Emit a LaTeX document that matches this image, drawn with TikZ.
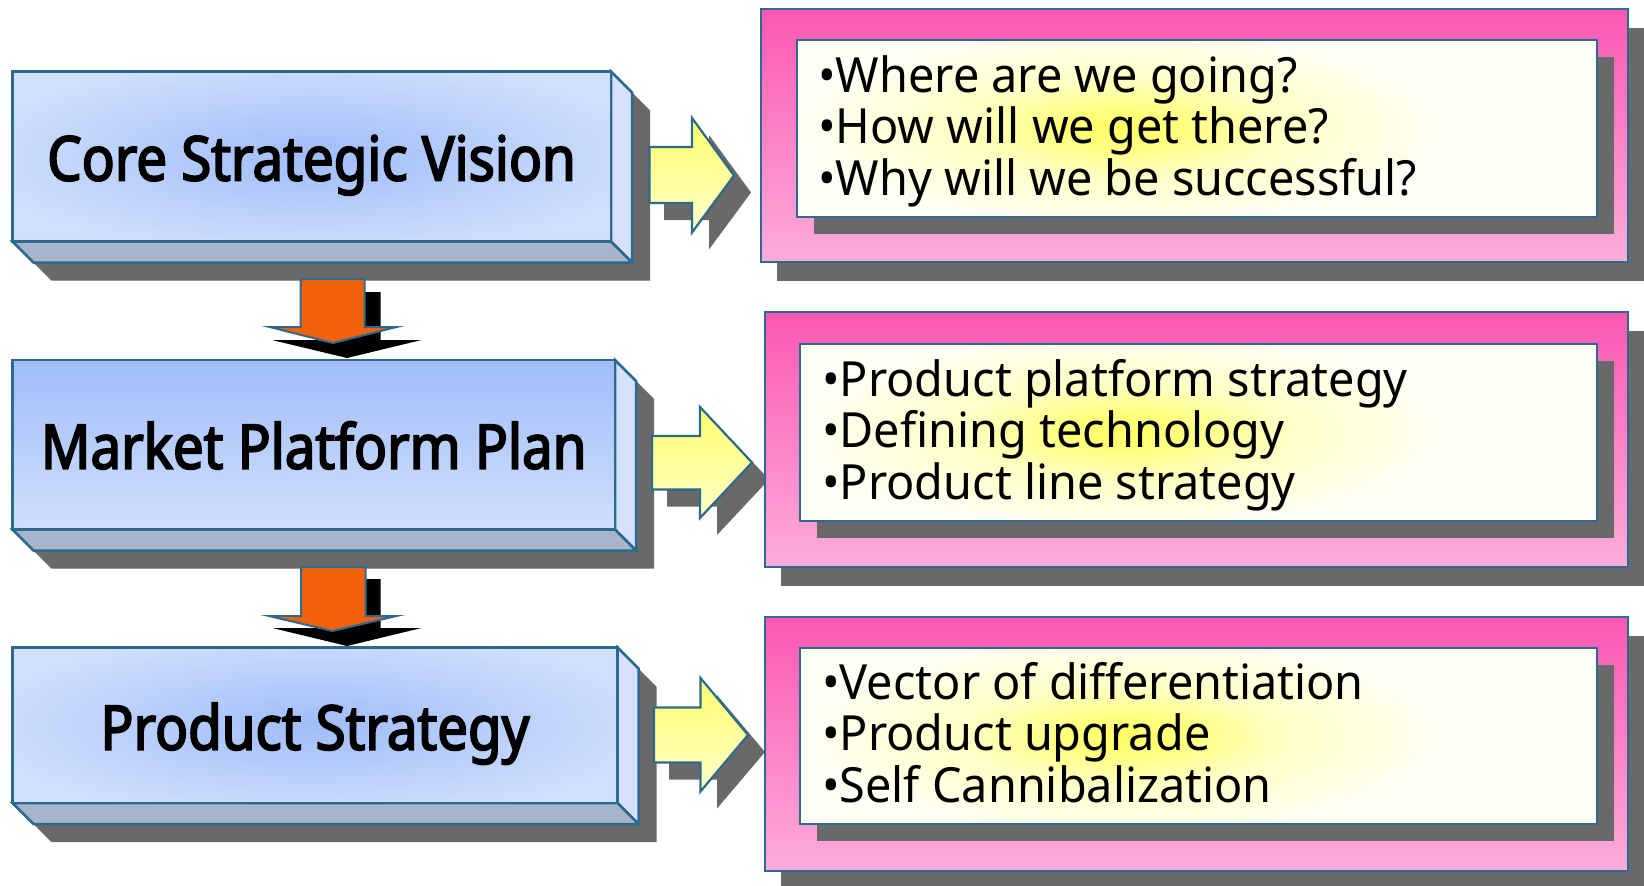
\documentclass[tikz,border=0pt]{standalone}
\usepackage{fontspec}
\setmainfont{Noto Sans}
\newfontfamily\rfont[FakeStretch=0.965]{Noto Sans}
\newfontfamily\lfont[FakeStretch=0.887,FakeBold=3]{Noto Sans}
\definecolor{edge}{RGB}{46,106,142}
\definecolor{shad}{RGB}{105,105,105}
\definecolor{bluec}{RGB}{160,189,249}
\definecolor{bluee}{RGB}{208,223,252}
\definecolor{bside}{RGB}{214,226,252}
\definecolor{bbot}{RGB}{166,180,204}
\definecolor{pinkt}{RGB}{251,88,178}
\definecolor{pinkb}{RGB}{253,172,218}
\definecolor{orng}{RGB}{242,98,10}
\definecolor{ylwt}{RGB}{255,255,110}
\definecolor{ylwb}{RGB}{255,255,200}
\definecolor{glow}{RGB}{255,255,100}
\definecolor{cream}{RGB}{255,255,248}
\pgfdeclareradialshading{glowshade}{\pgfpoint{0bp}{0bp}}{color(0bp)=(glow); color(5bp)=(glow!80!cream); color(12bp)=(glow!35!cream); color(25bp)=(cream); color(50bp)=(cream)}
\newcommand\threed[4]{%
 \fill[shad] ([shift={(18,18)}]#1,#2) -- ([shift={(18,18)}]#3,#2) -- ([shift={(39,39)}]#3,#2) -- ([shift={(39,39)}]#3,#4) -- ([shift={(39,39)}]#1,#4) -- ([shift={(18,18)}]#1,#4) -- cycle;
 \filldraw[fill=bside,edgeline] (#3,#2) -- ([shift={(21,21)}]#3,#2) -- ([shift={(21,21)}]#3,#4) -- (#3,#4) -- cycle;
 \filldraw[fill=bbot,edgeline] (#1,#4) -- (#3,#4) -- ([shift={(21,21)}]#3,#4) -- ([shift={(21,21)}]#1,#4) -- cycle;
}
\newcommand\pinkbox[8]{% pink L T R B, inner L T R B
 \fill[shad] ([shift={(16,19)}]#1,#2) rectangle ([shift={(16,19)}]#3,#4);
 \shade[top color=pinkt, bottom color=pinkb] (#1,#2) rectangle (#3,#4);
 \draw[edgeline,line width=2] (#1,#2) rectangle (#3,#4);
 \fill[shad] ([shift={(17,17)}]#5,#6) rectangle ([shift={(17,17)}]#7,#8);
 \begin{scope}
  \clip (#5,#6) rectangle (#7,#8);
  \fill[cream] (#5,#6) rectangle (#7,#8);
  \shade[shading=glowshade] ([shift={(325,88)}]#5,#6) ellipse [x radius=330, y radius=100];
 \end{scope}
 \draw[edgeline,line width=2] (#5,#6) rectangle (#7,#8);
}
\tikzset{
 edgeline/.style={draw=edge, line width=2.5, line join=miter},
 ltext/.style={anchor=base, inner sep=0, font=\lfont\fontsize{61.6}{70}\selectfont},
 rtext/.style={anchor=base west, inner sep=0, font=\rfont\fontsize{48.5}{51}\selectfont},
 yarrow/.style={top color=ylwt, bottom color=ylwb, draw=edge, line width=2.2, line join=miter},
}
\begin{document}
\begin{tikzpicture}[x=1pt,y=-1pt]
\useasboundingbox (0,0) rectangle (1644,886);
\fill[white] (0,0) rectangle (1644,886);
% ---------- left 3D boxes ----------
\threed{12.5}{71.5}{611}{241.5}
\begin{scope}
 \clip (12.5,71.5) rectangle (611,241.5);
 \fill[bluee] (12.5,71.5) rectangle (611,241.5);
 \shade[inner color=bluec, outer color=bluee] (311.75,156.5) ellipse [x radius=340, y radius=100];
\end{scope}
\draw[edgeline] (12.5,71.5) rectangle (611,241.5);
\node[ltext] (csv) at (311.5,180.5) {Core Strategic Vision};

\threed{12.5}{360}{615}{529.5}
\shade[top color=bluec, bottom color=bluee] (12.5,360) rectangle (615,529.5);
\draw[edgeline] (12.5,360) rectangle (615,529.5);
\node[ltext] (mpp) at (313.75,468.7) {Market Platform Plan};

\threed{12.5}{647.5}{617.5}{803}
\begin{scope}
 \clip (12.5,647.5) rectangle (617.5,803);
 \fill[bluee] (12.5,647.5) rectangle (617.5,803);
 \shade[inner color=bluec, outer color=bluee] (315,725) ellipse [x radius=340, y radius=95];
\end{scope}
\draw[edgeline] (12.5,647.5) rectangle (617.5,803);
\node[ltext] (ps) at (315,749.7) {Product Strategy};

% ---------- orange down arrows ----------
\fill[black] (316,292) -- (380.5,292) -- (380.5,340) -- (421.5,340) -- (347,358) -- (272,340) -- (316,340) -- cycle;
\filldraw[fill=orng, draw=edge, line width=2] (300.5,279) -- (364.5,279) -- (364.5,327) -- (396.5,327) -- (333,343) -- (269.5,327) -- (300.5,327) -- cycle;

\fill[black] (316,579) -- (380.5,579) -- (380.5,628) -- (421.5,628) -- (347,646) -- (272.5,628) -- (316,628) -- cycle;
\filldraw[fill=orng, draw=edge, line width=2] (301,567) -- (365.5,567) -- (365.5,616) -- (396.5,616) -- (332.5,631) -- (269,616) -- (301,616) -- cycle;

% ---------- yellow right arrows ----------
\fill[shad] (664,164) -- (709,164) -- (709,135) -- (751,192.5) -- (709,249.5) -- (709,220) -- (664,220) -- cycle;
\path[yarrow] (649.5,147) -- (692,147) -- (692,118) -- (734,175.5) -- (692,232.5) -- (692,203) -- (649.5,203) -- cycle;

\fill[shad] (667,453) -- (717,453) -- (717,424) -- (769,479.5) -- (717,535) -- (717,506.5) -- (667,506.5) -- cycle;
\path[yarrow] (652,436) -- (700,436) -- (700,407) -- (752,462.5) -- (700,518) -- (700,489.5) -- (652,489.5) -- cycle;

\fill[shad] (669,724.5) -- (717,724.5) -- (717,695) -- (765,752) -- (717,808.5) -- (717,779.5) -- (669,779.5) -- cycle;
\path[yarrow] (654,707.5) -- (700.5,707.5) -- (700.5,678) -- (748,735) -- (700.5,791.5) -- (700.5,762.5) -- (654,762.5) -- cycle;

% ---------- pink boxes ----------
\pinkbox{761}{8.5}{1628}{262}{797}{40}{1597}{217}
\node[rtext] (q1) at (818,92.3) {•Where are we going?};
\node[rtext] (q2) at (818,143.6) {•How will we get there?};
\node[rtext] (q3) at (818,195) {•Why will we be successful?};

\pinkbox{764.5}{311.5}{1628}{567}{800}{344}{1597}{521}
\node[rtext] (p1) at (822,396.3) {•Product platform strategy};
\node[rtext] (p2) at (822,447.7) {•Defining technology};
\node[rtext] (p3) at (822,499) {•Product line strategy};

\pinkbox{764.5}{616.5}{1628}{871}{800}{648}{1597}{824}
\node[rtext] (s1) at (822,699.3) {•Vector of differentiation};
\node[rtext] (s2) at (822,750.7) {•Product upgrade};
\node[rtext] (s3) at (822,802) {•Self Cannibalization};
\end{tikzpicture}
\end{document}
